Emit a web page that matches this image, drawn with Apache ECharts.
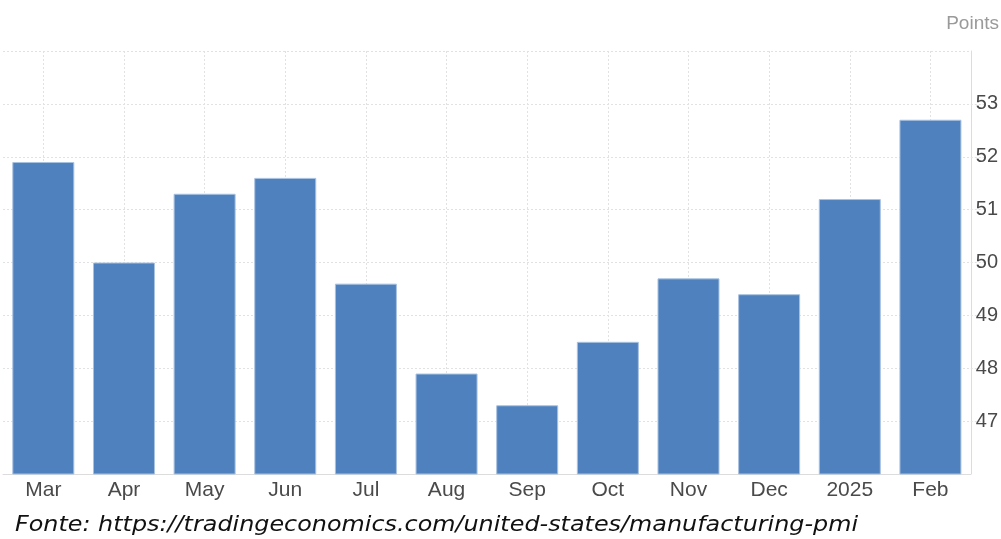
<!DOCTYPE html>
<html>
<head>
<meta charset="utf-8">
<script src="https://cdn.jsdelivr.net/npm/echarts@6/dist/echarts.min.js"></script>
<style>
html,body{margin:0;padding:0;background:#fff;}
#chart{width:1001px;height:539px;}
</style>
</head>
<body>
<div id="chart"></div>
<script>
const categories = ['Mar','Apr','May','Jun','Jul','Aug','Sep','Oct','Nov','Dec','2025','Feb'];
const pmiValues = [51.9, 50.0, 51.3, 51.6, 49.6, 47.9, 47.3, 48.5, 49.7, 49.4, 51.2, 52.7];
const unitLabel = 'Points';
const sourceText = 'Fonte: https://tradingeconomics.com/united-states/manufacturing-pmi';

const chart = echarts.init(document.getElementById('chart'));
const gridColor = '#e2e2e2';
chart.setOption({
  animation: false,
  backgroundColor: '#ffffff',
  grid: { left: 3, right: 29, top: 51, bottom: 65, containLabel: false },
  xAxis: {
    type: 'category',
    data: categories,
    boundaryGap: true,
    axisLine: { show: true, lineStyle: { color: '#dcdcdc', width: 1 } },
    axisTick: { show: false },
    axisLabel: { color: '#4a4a4a', fontSize: 21, fontFamily: 'Liberation Sans, Arial, sans-serif', margin: 6 },
    splitLine: { show: true, alignWithLabel: true, lineStyle: { color: gridColor, type: [2, 2], width: 1 } }
  },
  yAxis: {
    type: 'value',
    position: 'right',
    min: 46,
    max: 54,
    interval: 1,
    axisLine: { show: true, lineStyle: { color: '#dcdcdc', width: 1 } },
    axisTick: { show: true, inside: false, length: 14, lineStyle: { color: gridColor, type: [2, 2] } },
    axisLabel: {
      color: '#4a4a4a', fontSize: 20, fontFamily: 'Liberation Sans, Arial, sans-serif',
      margin: 5, showMinLabel: false, showMaxLabel: false, padding: [0, 0, 8, 0]
    },
    splitLine: { show: true, lineStyle: { color: gridColor, type: [2, 2], width: 1 } }
  },
  series: [{
    type: 'bar',
    data: pmiValues,
    barWidth: 62,
    itemStyle: { color: '#4e81bd', borderColor: '#a8c2e0', borderWidth: 1 },
    emphasis: { disabled: true }
  }],
  graphic: [
    {
      type: 'text', right: 2, top: 14,
      style: { text: unitLabel, fill: '#9a9a9a', font: '19px "Liberation Sans", Arial, sans-serif' }
    },
    {
      type: 'text', x: 15, y: 515, scaleX: 1.136,
      style: { text: sourceText, fill: '#111', font: 'italic 21px "DejaVu Sans", sans-serif', textVerticalAlign: 'top' }
    }
  ]
});
</script>
</body>
</html>
